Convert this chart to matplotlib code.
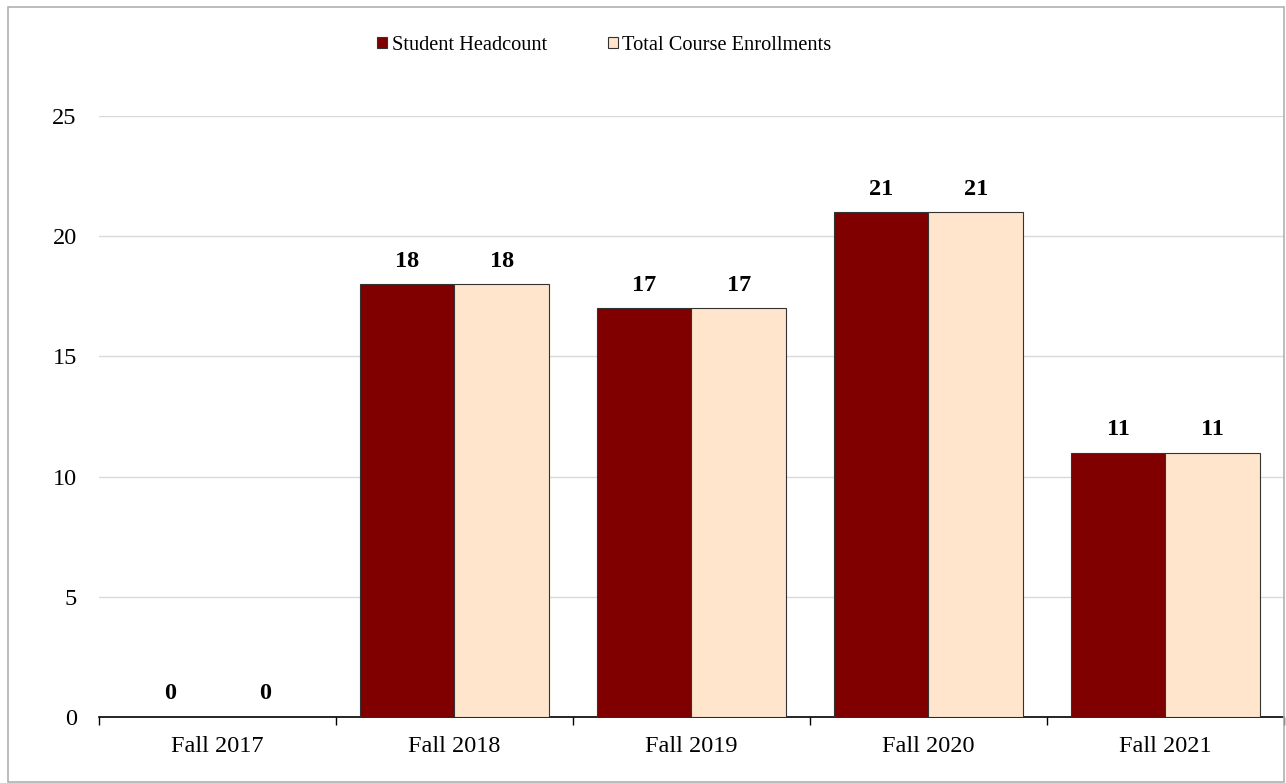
import numpy as np
import matplotlib.pyplot as plt
from matplotlib.patches import Rectangle

plt.rcParams['font.family'] = ['Liberation Serif', 'DejaVu Serif']

# data
terms = ['Fall 2017', 'Fall 2018', 'Fall 2019', 'Fall 2020', 'Fall 2021']
headcount = [0, 18, 17, 21, 11]
enrollments = [0, 18, 17, 21, 11]

fig = plt.figure(figsize=(12.86, 7.83), dpi=100)
ax = fig.add_axes([0.077, 0.0843, 0.9214, 0.7676])

# outer border
fig.patches.append(Rectangle((8 / 1286, 1 - 782 / 783), 1276 / 1286, 775 / 783,
                             transform=fig.transFigure, fill=False,
                             edgecolor='#b0b0b0', linewidth=1.2))

x = np.arange(len(terms))
w = 0.4
b1 = ax.bar(x - w / 2, headcount, w, color='#800000', edgecolor='#333333',
            linewidth=0.8, label='Student Headcount', zorder=3)
b2 = ax.bar(x + w / 2, enrollments, w, color='#FFE5CB', edgecolor='#333333',
            linewidth=0.8, label='Total Course Enrollments', zorder=3)

for bars in (b1, b2):
    for r in bars:
        ax.annotate(f'{int(r.get_height())}', (r.get_x() + r.get_width() / 2, r.get_height()),
                    xytext=(0, 9), textcoords='offset points', ha='center', va='bottom',
                    fontsize=17.5, fontweight='bold')

ax.set_xlim(-0.5, len(terms) - 0.5)
ax.set_ylim(0, 25)
ax.set_yticks(range(0, 26, 5))
ax.yaxis.grid(True, color='#d9d9d9', linewidth=1, zorder=0)
ax.set_axisbelow(True)

# ticks at category boundaries, labels at centres
ax.set_xticks(np.arange(-0.5, len(terms), 1))
ax.set_xticklabels([])
ax.set_xticks(x, minor=True)
ax.set_xticklabels(terms, minor=True)
ax.tick_params(axis='x', which='major', direction='out', length=6, width=1, color='black')
ax.tick_params(axis='x', which='minor', length=0, pad=14, labelsize=17.5)
ax.tick_params(axis='y', length=0, pad=16, labelsize=17.5)

for s in ['top', 'right', 'left']:
    ax.spines[s].set_visible(False)
ax.spines['bottom'].set_color('black')
ax.spines['bottom'].set_linewidth(1.2)

fig.legend(loc='center', bbox_to_anchor=(0.47, 0.942), ncol=2, frameon=False,
           fontsize=14.7, handlelength=0.5, handleheight=0.5, handletextpad=0.2,
           columnspacing=3.0)

plt.savefig('out.png', dpi=100)
